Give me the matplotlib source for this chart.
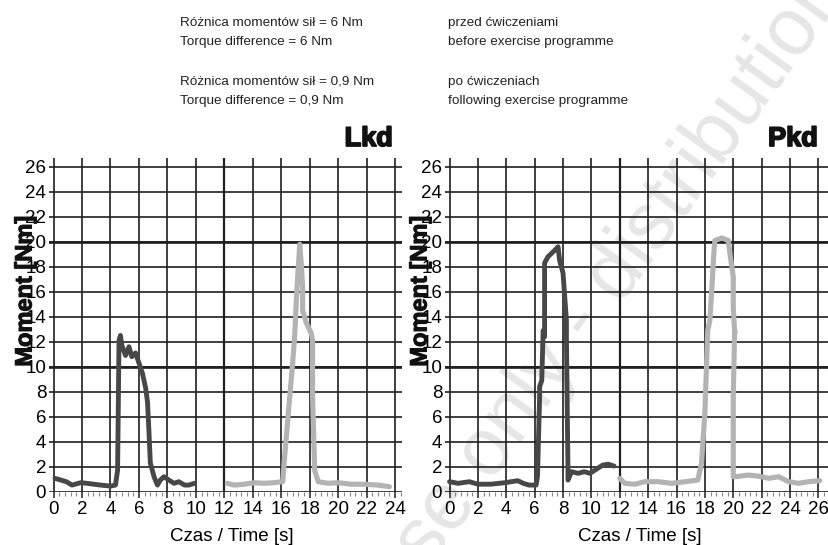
import matplotlib
matplotlib.use('Agg')
import matplotlib.pyplot as plt
import matplotlib.patheffects as pe
from matplotlib.ticker import MultipleLocator

plt.rcParams['font.family'] = ['Liberation Sans', 'DejaVu Sans']

# Lkd - before exercise (dark) and after (light), time [s] / torque [Nm]
lkd_before_t = [0.1, 0.9, 1.3, 1.9, 2.35, 3.3, 4.0, 4.35, 4.5, 4.6, 4.7, 4.8, 5.06, 5.3, 5.5,
                5.76, 6.0, 6.24, 6.47, 6.6, 6.7, 6.8, 7.06, 7.3, 7.5, 7.76, 8.1, 8.47, 8.8,
                9.2, 9.5, 9.9]
lkd_before_m = [1.07, 0.8, 0.53, 0.72, 0.67, 0.53, 0.45, 0.53, 1.7, 12.1, 12.5, 11.7, 10.9, 11.6,
                10.8, 11.1, 10.3, 9.5, 8.3, 7.2, 4.9, 2.3, 1.2, 0.53, 0.93, 1.2, 0.93, 0.67,
                0.8, 0.53, 0.53, 0.67]
lkd_after_t = [12.2, 12.7, 13.4, 14.1, 14.8, 15.5, 16.1, 16.2, 16.5, 16.8, 16.94, 17.06, 17.18,
               17.3, 17.4, 17.5, 17.5, 17.76, 18.1, 18.2, 18.2, 18.35, 18.6, 19.3, 20.0, 20.9,
               21.9, 22.8, 23.6]
lkd_after_m = [0.67, 0.53, 0.6, 0.72, 0.67, 0.72, 0.8, 2.3, 6.3, 10.3, 12.4, 15.3, 17.7,
               19.8, 18.3, 16.4, 14.5, 13.5, 12.7, 12.1, 7.6, 1.7, 0.8, 0.67, 0.72, 0.6,
               0.59, 0.53, 0.4]

# Pkd
pkd_before_t = [0.0, 0.6, 1.4, 2.0, 2.9, 3.9, 4.8, 5.2, 5.6, 6.1, 6.2, 6.35, 6.35, 6.5, 6.6,
                6.7, 6.7, 6.94, 7.4, 7.65, 7.76, 8.0, 8.1, 8.24, 8.24, 8.3, 8.35, 8.35, 8.6,
                9.06, 9.5, 9.9, 10.35, 10.8, 11.2, 11.6]
pkd_before_m = [0.8, 0.67, 0.8, 0.6, 0.6, 0.72, 0.88, 0.67, 0.53, 0.53, 1.2, 7.6, 8.4, 8.9, 12.9,
                12.4, 18.3, 18.8, 19.3, 19.6, 18.5, 17.5, 15.9, 13.7, 12.4, 6.3, 1.7, 0.93,
                1.6, 1.47, 1.6, 1.47, 1.8, 2.13, 2.2, 2.05]
pkd_after_t = [12.0, 12.35, 13.06, 13.76, 14.7, 15.65, 16.6, 17.5, 17.76, 18.0, 18.2, 18.35, 18.5,
               18.6, 18.7, 19.2, 19.65, 19.76, 20.0, 20.0, 20.1, 20.1, 20.0, 20.0, 20.2, 21.06,
               21.76, 22.5, 23.2, 23.9, 24.6, 25.3, 26.1]
pkd_after_m = [1.07, 0.67, 0.6, 0.8, 0.8, 0.67, 0.8, 0.93, 2.27, 6.3, 12.9, 13.7, 16.4,
               18.5, 20.1, 20.3, 20.1, 19.1, 17.2, 14.8, 12.7, 12.9, 7.6, 1.2, 1.2, 1.33,
               1.25, 1.07, 1.2, 0.8, 0.67, 0.8, 0.88]

y_ticks = list(range(0, 27, 2))
dark = '#474747'
light = '#b3b3b3'
grid_c = '#1f1f1f'

fig = plt.figure(figsize=(8.29, 5.45), dpi=100)

# watermark behind the plots
fig.text(0.735, 0.475, 'use only - distribution', rotation=54, rotation_mode='anchor',
         ha='center', va='center', fontsize=58, color='#e6e6e6', zorder=-1)

ax1 = fig.add_axes([0.0591, 0.0978, 0.4261, 0.6123])
ax2 = fig.add_axes([0.5368, 0.0978, 0.4632, 0.6123])

panels = [
    (ax1, 24.5, 24, lkd_before_t, lkd_before_m, lkd_after_t, lkd_after_m),
    (ax2, 26.75, 26, pkd_before_t, pkd_before_m, pkd_after_t, pkd_after_m),
]
for ax, xmax, xlast, bt, bm, at, am in panels:
    ax.set_facecolor('none')
    ax.set_xlim(-0.32, xmax)
    ax.set_ylim(0, 26.7)
    ax.set_xticks(list(range(0, xlast + 1, 2)))
    ax.set_yticks(y_ticks)
    ax.xaxis.set_minor_locator(MultipleLocator(0.4))
    ax.grid(True, which='major', color=grid_c, lw=1.2)
    ax.axhline(10, color=grid_c, lw=1.9)
    ax.axhline(20, color=grid_c, lw=1.9)
    ax.axvline(12, color=grid_c, lw=1.6)
    for s in ax.spines.values():
        s.set_visible(False)
    ax.tick_params(axis='x', which='major', length=4.5, width=1.1, color=grid_c,
                   labelsize=13.5, pad=2.5)
    ax.tick_params(axis='x', which='minor', length=3, width=0.8, color='#888888')
    ax.tick_params(axis='y', length=0, labelsize=13.5, pad=2)
    ax.plot(bt, bm, color=dark, lw=3.5, solid_joinstyle='round', solid_capstyle='round')
    ax.plot(at, am, color=light, lw=3.7, solid_joinstyle='round', solid_capstyle='round')

heavy = [pe.withStroke(linewidth=1.3, foreground='#111111')]

# titles
fig.text(393 / 829, 1 - 146 / 545, 'Lkd', ha='right', va='baseline', fontsize=19.5,
         weight='bold', color='#111111', path_effects=heavy)
fig.text(818 / 829, 1 - 146 / 545, 'Pkd', ha='right', va='baseline', fontsize=19.5,
         weight='bold', color='#111111', path_effects=heavy)

# axis labels
for xc in (25, 420):
    fig.text(xc / 829, 1 - 291 / 545, 'Moment [Nm]', rotation=90, ha='center', va='center',
             fontsize=17, weight='bold', color='#111111',
             path_effects=[pe.withStroke(linewidth=0.8, foreground='#111111')])
for xc in (232, 640):
    fig.text(xc / 829, 1 - 541 / 545, 'Czas / Time [s]', ha='center', va='baseline',
             fontsize=13.5)

# header
header_left = ['Różnica momentów sił = 6 Nm', 'Torque difference = 6 Nm',
               'Różnica momentów sił = 0,9 Nm', 'Torque difference = 0,9 Nm']
header_right = ['przed ćwiczeniami', 'before exercise programme',
                'po ćwiczeniach', 'following exercise programme']
baselines = [26, 45.5, 85, 104]
for yb, tl, tr in zip(baselines, header_left, header_right):
    fig.text(180 / 829, 1 - yb / 545, tl, ha='left', va='baseline', fontsize=9.7,
             color='#222222')
    fig.text(448 / 829, 1 - yb / 545, tr, ha='left', va='baseline', fontsize=9.7,
             color='#222222')

fig.savefig('out.png', dpi=100)
